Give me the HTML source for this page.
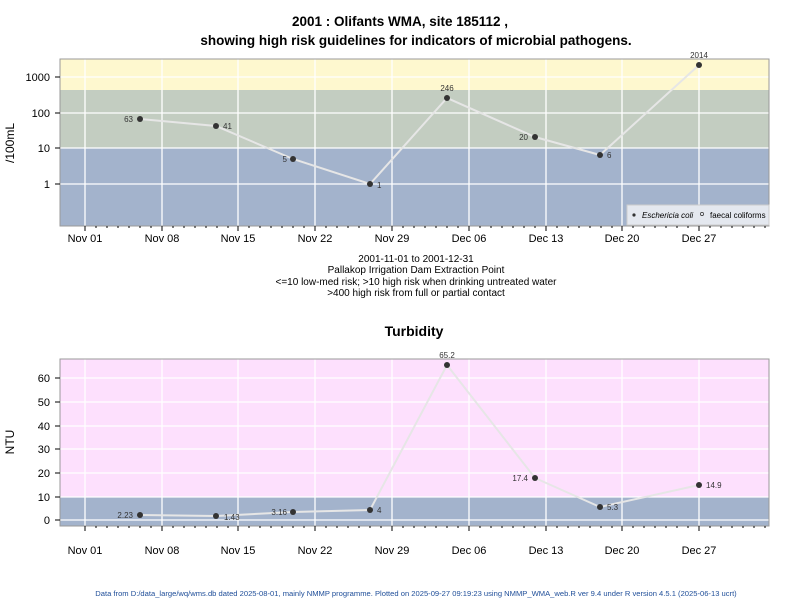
<!DOCTYPE html>
<html><head><meta charset="utf-8"><style>body{margin:0;background:#fff}svg{display:block;font-family:"Liberation Sans",Arial,sans-serif}</style></head>
<body>
<svg width="800" height="600" viewBox="0 0 800 600" xmlns="http://www.w3.org/2000/svg">
<text x="400" y="26" text-anchor="middle" font-size="13.5" font-weight="bold">2001 : Olifants WMA, site 185112 ,</text>
<text x="416" y="45" text-anchor="middle" font-size="13.5" font-weight="bold">showing high risk guidelines for indicators of microbial pathogens.</text>
<!-- panel 1 -->
<rect x="60" y="59" width="709" height="31" fill="#fef8cf"/>
<rect x="60" y="90" width="709" height="58" fill="#c3cdc1"/>
<rect x="60" y="148" width="709" height="78" fill="#a3b3cc"/>
<g stroke="#fff" stroke-width="1.3">
<line x1="60" x2="769" y1="77" y2="77"/><line x1="60" x2="769" y1="113" y2="113"/><line x1="60" x2="769" y1="148" y2="148"/><line x1="60" x2="769" y1="184" y2="184"/>
<line x1="85" x2="85" y1="59" y2="226"/><line x1="162" x2="162" y1="59" y2="226"/><line x1="238" x2="238" y1="59" y2="226"/><line x1="315" x2="315" y1="59" y2="226"/><line x1="392" x2="392" y1="59" y2="226"/><line x1="469" x2="469" y1="59" y2="226"/><line x1="546" x2="546" y1="59" y2="226"/><line x1="622" x2="622" y1="59" y2="226"/><line x1="699" x2="699" y1="59" y2="226"/>
</g>
<rect x="60" y="59" width="709" height="167" fill="none" stroke="#999"/>
<g stroke="#000"><line x1="55" x2="60" y1="77" y2="77"/><line x1="55" x2="60" y1="113" y2="113"/><line x1="55" x2="60" y1="148" y2="148"/><line x1="55" x2="60" y1="184" y2="184"/></g>
<g font-size="11" text-anchor="end"><text x="50" y="81">1000</text><text x="50" y="117">100</text><text x="50" y="152">10</text><text x="50" y="188">1</text></g>
<text transform="translate(14,143) rotate(-90)" text-anchor="middle" font-size="12">/100mL</text>
<polyline points="140,119 216,126 293,159 370,184 447,98 535,137 600,155 699,65" fill="none" stroke="#e6e6e6" stroke-width="2"/>
<g fill="#333"><circle cx="140" cy="119" r="3"/><circle cx="216" cy="126" r="3"/><circle cx="293" cy="159" r="3"/><circle cx="370" cy="184" r="3"/><circle cx="447" cy="98" r="3"/><circle cx="535" cy="137" r="3"/><circle cx="600" cy="155" r="3"/><circle cx="699" cy="65" r="3"/></g>
<g font-size="8" fill="#333"><text x="133" y="122" text-anchor="end">63</text><text x="223" y="129">41</text><text x="287" y="162" text-anchor="end">5</text><text x="377" y="188">1</text><text x="447" y="91" text-anchor="middle">246</text><text x="528" y="140" text-anchor="end">20</text><text x="607" y="158">6</text><text x="699" y="58" text-anchor="middle">2014</text></g>
<rect x="627" y="205" width="142" height="20" fill="#e4e8ef" stroke="#ccc"/>
<circle cx="634" cy="215" r="1.6" fill="#333"/><text x="642" y="218" font-size="8" font-style="italic">Eschericia coli</text>
<circle cx="702" cy="214" r="1.6" fill="none" stroke="#333" stroke-width="0.7"/><text x="710" y="218" font-size="8">faecal coliforms</text>
<g font-size="11" text-anchor="middle"><text x="85" y="242">Nov 01</text><text x="162" y="242">Nov 08</text><text x="238" y="242">Nov 15</text><text x="315" y="242">Nov 22</text><text x="392" y="242">Nov 29</text><text x="469" y="242">Dec 06</text><text x="546" y="242">Dec 13</text><text x="622" y="242">Dec 20</text><text x="699" y="242">Dec 27</text></g>
<g font-size="10" text-anchor="middle"><text x="416" y="262">2001-11-01 to 2001-12-31</text><text x="416" y="273">Pallakop Irrigation Dam Extraction Point</text><text x="416" y="285">&lt;=10 low-med risk; &gt;10 high risk when drinking untreated water</text><text x="416" y="296">&gt;400 high risk from full or partial contact</text></g>
<text x="414" y="336" text-anchor="middle" font-size="14" font-weight="bold">Turbidity</text>
<!-- panel 2 -->
<rect x="60" y="359" width="709" height="138" fill="#fde0fd"/>
<rect x="60" y="497" width="709" height="29" fill="#a3b3cc"/>
<g stroke="#fff" stroke-width="1.3">
<line x1="60" x2="769" y1="378" y2="378"/><line x1="60" x2="769" y1="402" y2="402"/><line x1="60" x2="769" y1="426" y2="426"/><line x1="60" x2="769" y1="449" y2="449"/><line x1="60" x2="769" y1="473" y2="473"/><line x1="60" x2="769" y1="497" y2="497"/><line x1="60" x2="769" y1="520" y2="520"/>
<line x1="85" x2="85" y1="359" y2="526"/><line x1="162" x2="162" y1="359" y2="526"/><line x1="238" x2="238" y1="359" y2="526"/><line x1="315" x2="315" y1="359" y2="526"/><line x1="392" x2="392" y1="359" y2="526"/><line x1="469" x2="469" y1="359" y2="526"/><line x1="546" x2="546" y1="359" y2="526"/><line x1="622" x2="622" y1="359" y2="526"/><line x1="699" x2="699" y1="359" y2="526"/>
</g>
<rect x="60" y="359" width="709" height="167" fill="none" stroke="#999"/>
<g stroke="#000"><line x1="55" x2="60" y1="378" y2="378"/><line x1="55" x2="60" y1="402" y2="402"/><line x1="55" x2="60" y1="426" y2="426"/><line x1="55" x2="60" y1="449" y2="449"/><line x1="55" x2="60" y1="473" y2="473"/><line x1="55" x2="60" y1="497" y2="497"/><line x1="55" x2="60" y1="520" y2="520"/></g>
<g font-size="11" text-anchor="end"><text x="50" y="382">60</text><text x="50" y="406">50</text><text x="50" y="430">40</text><text x="50" y="453">30</text><text x="50" y="477">20</text><text x="50" y="501">10</text><text x="50" y="524">0</text></g>
<text transform="translate(14,442) rotate(-90)" text-anchor="middle" font-size="12">NTU</text>
<polyline points="140,515 216,516 293,512 370,510 447,365 535,478 600,507 699,485" fill="none" stroke="#e6e6e6" stroke-width="2"/>
<g fill="#333"><circle cx="140" cy="515" r="3"/><circle cx="216" cy="516" r="3"/><circle cx="293" cy="512" r="3"/><circle cx="370" cy="510" r="3"/><circle cx="447" cy="365" r="3"/><circle cx="535" cy="478" r="3"/><circle cx="600" cy="507" r="3"/><circle cx="699" cy="485" r="3"/></g>
<g font-size="8" fill="#333"><text x="133" y="518" text-anchor="end">2.23</text><text x="224" y="520">1.43</text><text x="287" y="515" text-anchor="end">3.16</text><text x="377" y="513">4</text><text x="447" y="358" text-anchor="middle">65.2</text><text x="528" y="481" text-anchor="end">17.4</text><text x="607" y="510">5.3</text><text x="706" y="488">14.9</text></g>
<g font-size="11" text-anchor="middle"><text x="85" y="554">Nov 01</text><text x="162" y="554">Nov 08</text><text x="238" y="554">Nov 15</text><text x="315" y="554">Nov 22</text><text x="392" y="554">Nov 29</text><text x="469" y="554">Dec 06</text><text x="546" y="554">Dec 13</text><text x="622" y="554">Dec 20</text><text x="699" y="554">Dec 27</text></g>
<g stroke="#000">
<path d="M85 226v5M162 226v5M238 226v5M315 226v5M392 226v5M469 226v5M546 226v5M622 226v5M699 226v5M85 526v5M162 526v5M238 526v5M315 526v5M392 526v5M469 526v5M546 526v5M622 526v5M699 526v5"/>
<path d="M96 226v2M107 226v2M118 226v2M129 226v2M140 226v2M151 226v2M173 226v2M184 226v2M195 226v2M206 226v2M217 226v2M228 226v2M249 226v2M260 226v2M271 226v2M282 226v2M293 226v2M304 226v2M326 226v2M337 226v2M348 226v2M359 226v2M370 226v2M381 226v2M403 226v2M414 226v2M425 226v2M436 226v2M447 226v2M458 226v2M480 226v2M491 226v2M502 226v2M513 226v2M524 226v2M535 226v2M557 226v2M568 226v2M579 226v2M590 226v2M601 226v2M612 226v2M633 226v2M644 226v2M655 226v2M666 226v2M677 226v2M688 226v2M710 226v2M721 226v2M732 226v2M743 226v2M754 226v2M765 226v2"/>
<path d="M96 526v2M107 526v2M118 526v2M129 526v2M140 526v2M151 526v2M173 526v2M184 526v2M195 526v2M206 526v2M217 526v2M228 526v2M249 526v2M260 526v2M271 526v2M282 526v2M293 526v2M304 526v2M326 526v2M337 526v2M348 526v2M359 526v2M370 526v2M381 526v2M403 526v2M414 526v2M425 526v2M436 526v2M447 526v2M458 526v2M480 526v2M491 526v2M502 526v2M513 526v2M524 526v2M535 526v2M557 526v2M568 526v2M579 526v2M590 526v2M601 526v2M612 526v2M633 526v2M644 526v2M655 526v2M666 526v2M677 526v2M688 526v2M710 526v2M721 526v2M732 526v2M743 526v2M754 526v2M765 526v2"/>
</g>
<text x="416" y="596" text-anchor="middle" font-size="7.6" fill="#1f4e99">Data from D:/data_large/wq/wms.db dated 2025-08-01, mainly NMMP programme. Plotted on 2025-09-27 09:19:23 using NMMP_WMA_web.R ver 9.4 under R version 4.5.1 (2025-06-13 ucrt)</text>
</svg>
</body></html>
